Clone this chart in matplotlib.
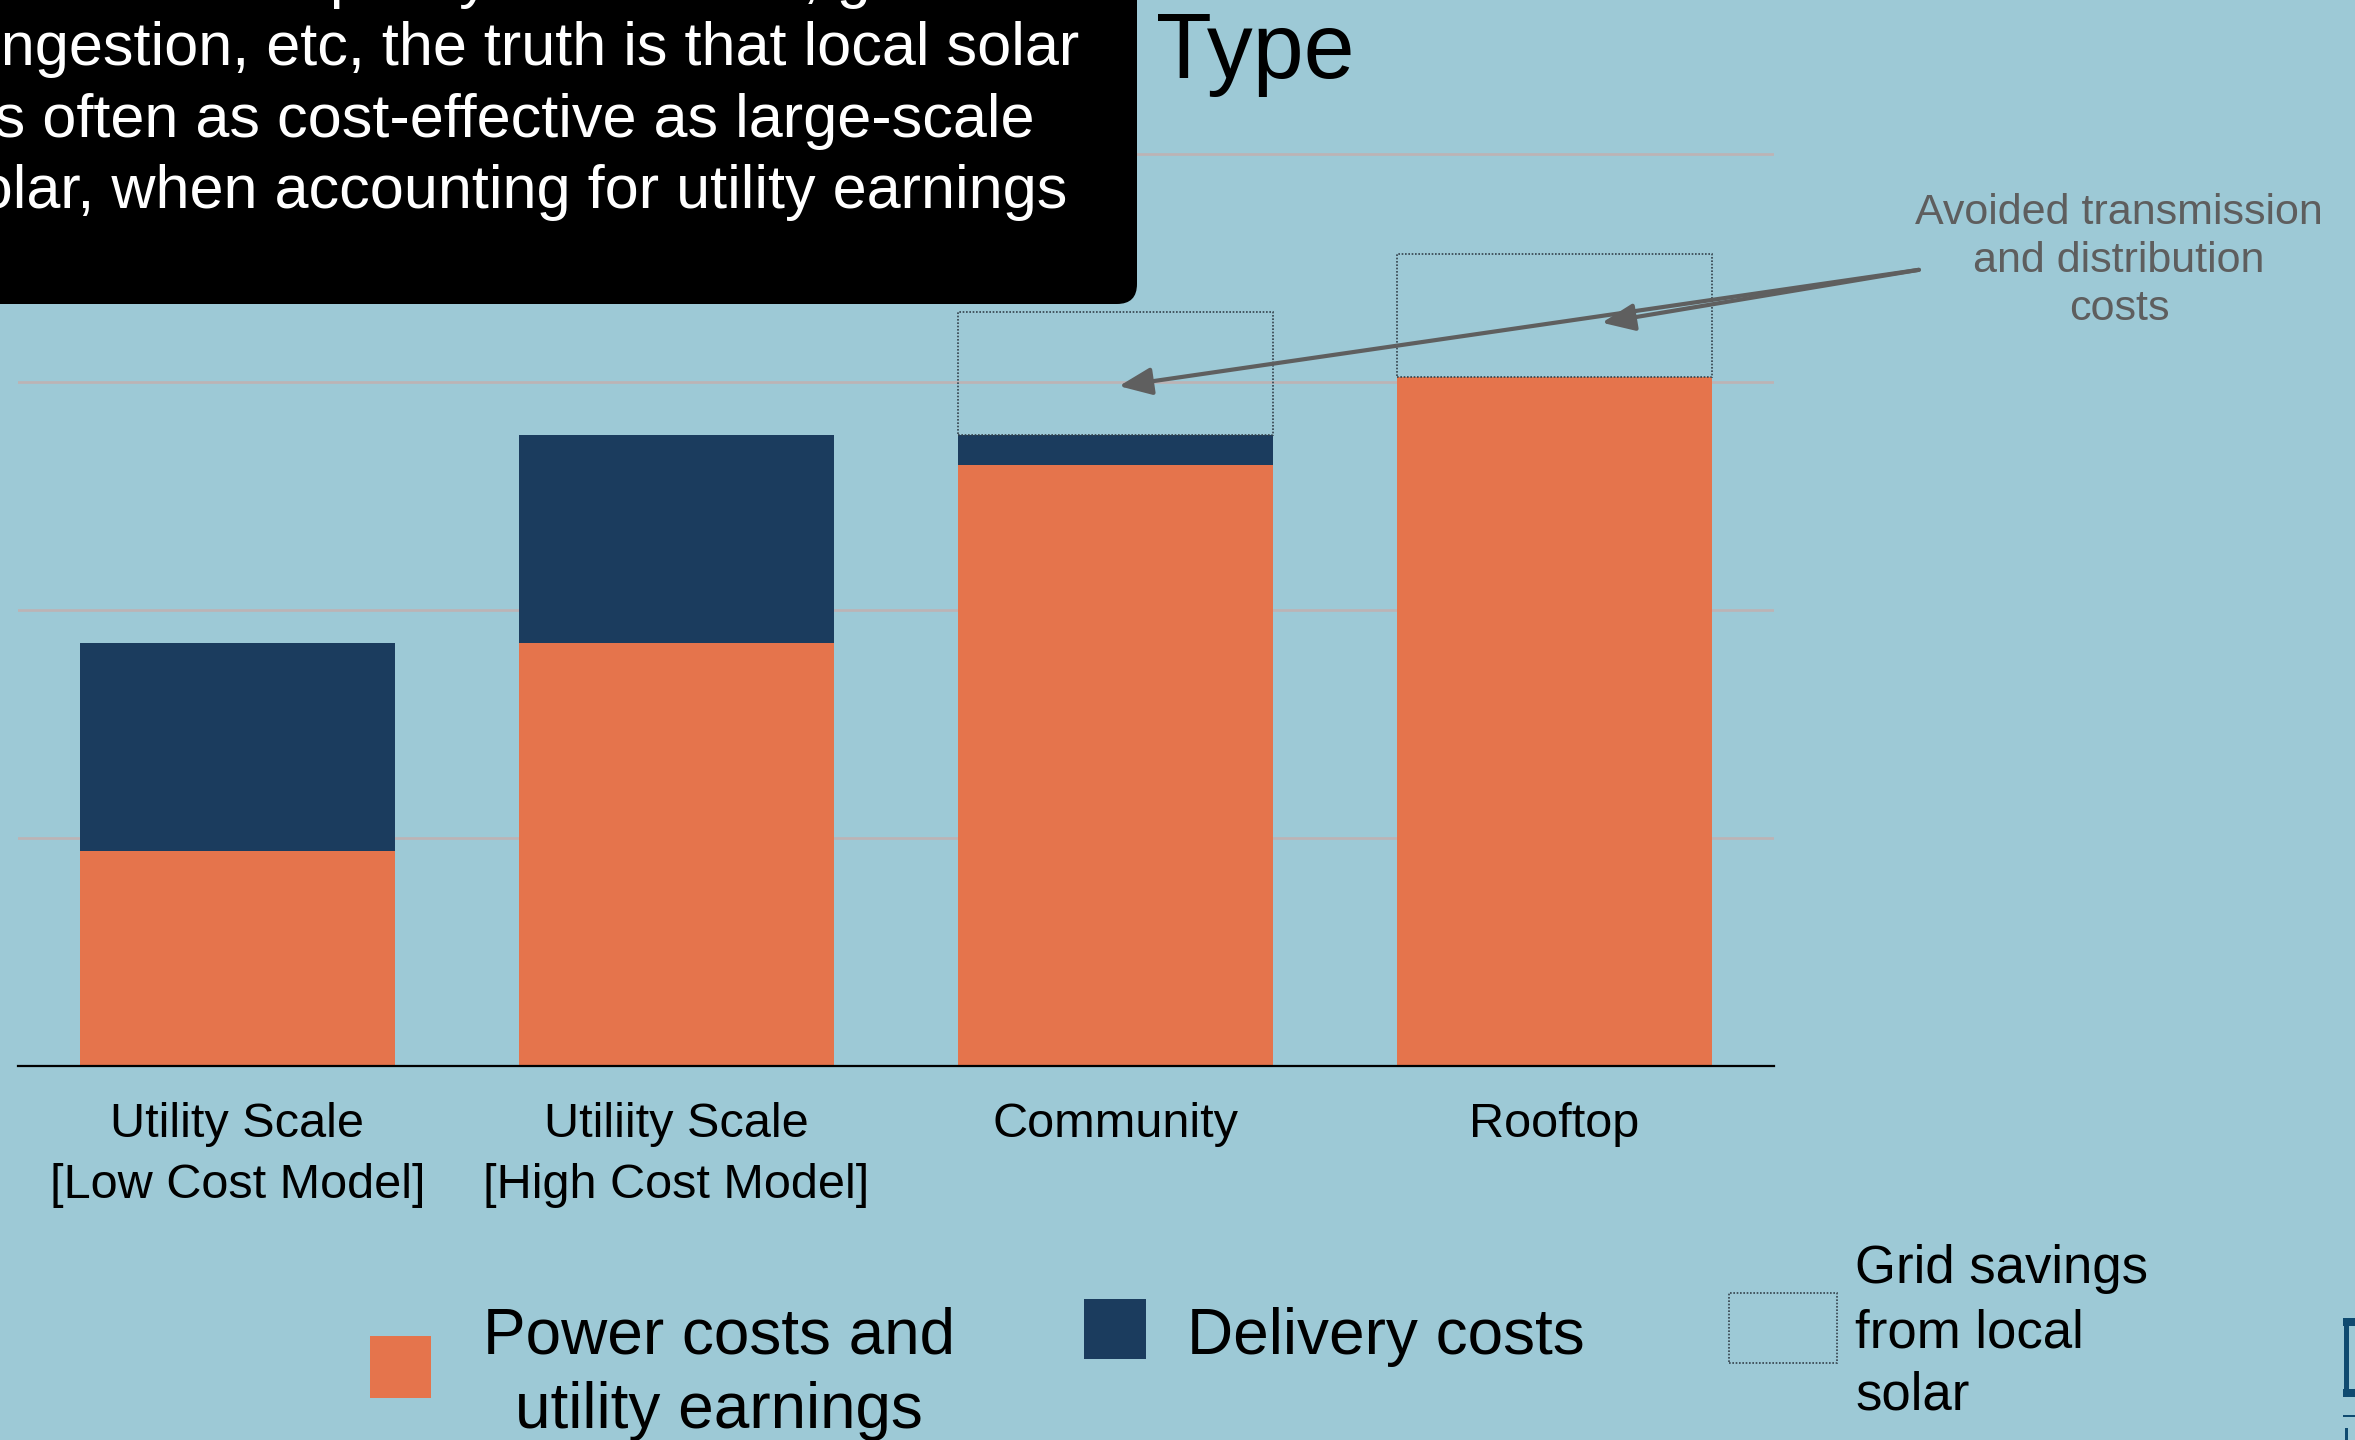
import matplotlib
matplotlib.use("Agg")
import matplotlib.pyplot as plt
from matplotlib.patches import Rectangle, FancyBboxPatch
import numpy as np

plt.rcParams['font.family'] = ['Liberation Sans', 'DejaVu Sans']

# data (arbitrary units, gridline every 5)
categories = ["Utility Scale\n[Low Cost Model]", "Utiliity Scale\n[High Cost Model]",
              "Community", "Rooftop"]
power_costs = [4.71, 9.28, 13.18, 15.11]
delivery_costs = [4.56, 4.56, 0.66, 0.0]
grid_savings = [0.0, 0.0, 2.70, 2.70]

bg = "#9DC9D6"
orange = "#E5744C"
navy = "#1B3C5E"
W, H = 2355, 1440


def fx(px):
    return px / W


def fy(py):
    return 1 - py / H


fig = plt.figure(figsize=(W / 100, H / 100), dpi=100)
fig.patch.set_facecolor(bg)

ymax = 20.5
ppu = 45.6
ax = fig.add_axes([fx(18), fy(1066), (1774 - 18) / W, ymax * ppu / H])
ax.set_facecolor("none")

x = np.arange(len(categories))
bw = 0.717
ax.bar(x, power_costs, bw, color=orange, zorder=2)
ax.bar(x, delivery_costs, bw, bottom=power_costs, color=navy, zorder=2)

tops = [p + d for p, d in zip(power_costs, delivery_costs)]
idx = [i for i in range(len(x)) if grid_savings[i] > 0]
ax.bar([x[i] for i in idx], [grid_savings[i] for i in idx], bw,
       bottom=[tops[i] for i in idx], fill=False, edgecolor="#34424C",
       linestyle=(0, (1, 1)), linewidth=1.2, zorder=3)

ax.set_xlim(-0.5, 3.5)
ax.set_ylim(0, ymax)
ax.set_yticks([0, 5, 10, 15, 20])
ax.set_yticklabels([])
ax.yaxis.grid(True, color="#BDB3B4", linewidth=1.9)
ax.set_axisbelow(True)
for s in ["top", "left", "right"]:
    ax.spines[s].set_visible(False)
ax.spines["bottom"].set_color("black")
ax.spines["bottom"].set_linewidth(1.6)
ax.spines["bottom"].set_zorder(4)
ax.tick_params(axis="both", length=0)
ax.set_xticks(x)
ax.set_xticklabels(categories, fontsize=35, linespacing=1.46)
ax.tick_params(axis="x", pad=26)

# callout arrows
start = (3.83, 17.46)
for tip in [(2.008, 14.91), (3.108, 16.3)]:
    ax.annotate("", xy=tip, xytext=start, annotation_clip=False,
                arrowprops=dict(arrowstyle="-|>,head_length=1.0,head_width=0.42",
                                mutation_scale=20, color="#5F5F5F", lw=3,
                                shrinkA=0, shrinkB=0), zorder=5)

for txt, by in [("Avoided transmission", 224), ("and distribution", 272), ("costs", 320)]:
    fig.text(fx(2119), fy(by), txt, fontsize=31, color="#5E5E5E",
             ha="center", va="baseline")

# black text box at top left (slide is cropped, so text runs off the edge)
box = FancyBboxPatch((-1, (H - 304) / 100), 1137 / 100 + 1, 304 / 100 + 1,
                     boxstyle="round,pad=0,rounding_size=0.2",
                     transform=fig.dpi_scale_trans, facecolor="black",
                     edgecolor="none", zorder=6)
fig.add_artist(box)
box_lines = [("due to capacity constraints, grid", -4),
             ("congestion, etc, the truth is that local solar", 65),
             ("is often as cost-effective as large-scale", 137),
             ("solar, when accounting for utility earnings", 208)]
for txt, by in box_lines:
    fig.text(fx(508), fy(by), txt, fontsize=44, color="white",
             ha="center", va="baseline", zorder=7)

fig.text(fx(1156), fy(78), "Type", fontsize=66, color="black",
         ha="left", va="baseline")

# legend
fig.add_artist(Rectangle((fx(370), fy(1398)), 61 / W, 62 / H,
                         transform=fig.transFigure, facecolor=orange, edgecolor="none"))
fig.text(fx(719), fy(1353), "Power costs and", fontsize=46, ha="center", va="baseline")
fig.text(fx(719), fy(1428), "utility earnings", fontsize=46, ha="center", va="baseline")

fig.add_artist(Rectangle((fx(1084), fy(1359)), 62 / W, 60 / H,
                         transform=fig.transFigure, facecolor=navy, edgecolor="none"))
fig.text(fx(1187), fy(1354), "Delivery costs", fontsize=46, ha="left", va="baseline")

fig.add_artist(Rectangle((fx(1729), fy(1363)), 108 / W, 70 / H,
                         transform=fig.transFigure, fill=False, edgecolor="#34424C",
                         linestyle=(0, (1, 1)), linewidth=1.2))
for txt, by in [("Grid savings", 1283), ("from local", 1347), ("solar", 1410)]:
    fig.text(fx(1855), fy(by), txt, fontsize=38, ha="left", va="baseline")

# cut-off logo at the bottom right corner
logo = "#0F4A70"
for (x0, y0, w, h) in [(2343, 1318, 12, 8), (2344, 1318, 5, 79), (2343, 1389, 12, 8),
                       (2343, 1415, 12, 2), (2345, 1428, 3, 12)]:
    fig.add_artist(Rectangle((fx(x0), fy(y0 + h)), w / W, h / H,
                             transform=fig.transFigure, facecolor=logo, edgecolor="none"))

fig.savefig("out.png", dpi=100, facecolor=bg)
